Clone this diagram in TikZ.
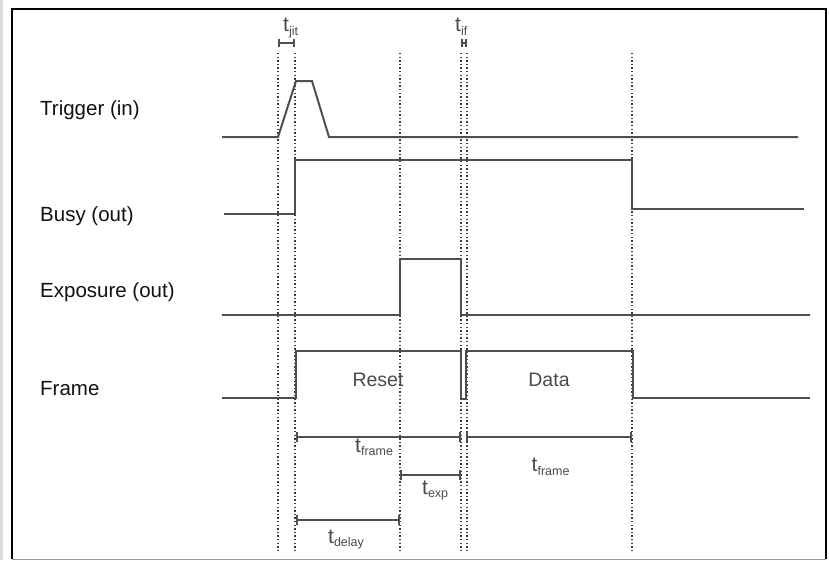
\documentclass[tikz,border=0pt]{standalone}
\usepackage{fontspec}
\setmainfont{Liberation Sans}
\usetikzlibrary{arrows.meta}
\definecolor{sigc}{HTML}{4F4F4F}
\definecolor{guidec}{HTML}{3A3A3A}
\definecolor{txtc}{HTML}{111111}
\definecolor{labc}{HTML}{4A4A4A}
\newcommand{\tsub}[1]{{\fontsize{21}{21}\selectfont t}{\fontsize{12.5}{12.5}\selectfont\raisebox{-3.5pt}{#1}}}
\begin{document}
\begin{tikzpicture}[x=1pt,y=-1pt,
  sigline/.style={line width=2pt, draw=sigc, line join=miter},
  guide/.style={line width=1.4pt, draw=guidec, dash pattern=on 1.3pt off 2.3pt},
  meas/.style={line width=1.8pt, draw=sigc, arrows={Bar[width=10pt]-Bar[width=10pt]}},
  smallmeas/.style={line width=1.8pt, draw=sigc, arrows={Bar[width=8pt]-Bar[width=8pt]}},
  signame/.style={anchor=base west, inner sep=0pt, text=txtc, font=\fontsize{20.5}{20.5}\selectfont},
  inlab/.style={anchor=base, inner sep=0pt, text=labc, font=\fontsize{19.5}{19.5}\selectfont},
  tlab/.style={anchor=base west, inner sep=0pt, text=labc}]
\useasboundingbox (0,0) rectangle (829,560);
% outer frame
\fill[black!13] (0,0) rectangle (3,560);
\draw[line width=0.8pt, black!40] (12,559) -- (826,559);
\draw[line width=2.4pt, black, line join=miter] (12,559) -- (12,9) -- (826,9) -- (826,559);
% guide lines
\foreach \gx in {278,295,400,461,467,632}
  \draw[guide] (\gx,53) -- (\gx,552);
% signals
\draw[sigline] (222,137) -- (278,137) -- (296,81) -- (312,81) -- (329,137) -- (798,137);
\draw[sigline] (224,214) -- (295,214) -- (295,160) -- (632,160) -- (632,209) -- (804,209);
\draw[sigline] (222,315) -- (400,315) -- (400,259) -- (461,259) -- (461,315) -- (810,315);
\draw[sigline] (222,398) -- (296,398) -- (296,351) -- (461,351) -- (461,399) -- (466,399) -- (466,351) -- (633,351) -- (633,398) -- (810,398);
% signal names
\node[signame] (ntrig) at (40,115) {Trigger (in)};
\node[signame] (nbusy) at (40,221) {Busy (out)};
\node[signame] (nexp) at (40,297) {Exposure (out)};
\node[signame] (nframe) at (40,395) {Frame};
\node[inlab] (reset) at (378,386) {Reset};
\node[inlab] (data) at (549,386) {Data};
% measurements
\coordinate (j1) at (278,43); \coordinate (j2) at (295,43);
\coordinate (i1) at (461,43); \coordinate (i2) at (467,43);
\draw[smallmeas] (j1) -- (j2);
\draw[smallmeas] (i1) -- (i2);
\coordinate (f1a) at (296,437); \coordinate (f1b) at (461,437);
\coordinate (f2a) at (466,437); \coordinate (f2b) at (632,437);
\coordinate (ea) at (400,475); \coordinate (eb) at (461,475);
\coordinate (da) at (296,520); \coordinate (db) at (400,520);
\draw[meas] (f1a) -- (f1b);
\draw[meas] (f2a) -- (f2b);
\draw[meas] (ea) -- (eb);
\draw[meas] (da) -- (db);
% time labels
\node[tlab] (tjit) at (283,31.5) {\tsub{jit}};
\node[tlab] (tif) at (455,31.5) {\tsub{if}};
\node[tlab] (tf1) at (355,452) {\tsub{frame}};
\node[tlab] (tf2) at (531.5,471.5) {\tsub{frame}};
\node[tlab] (texp) at (422,494) {\tsub{exp}};
\node[tlab] (tdel) at (328,543) {\tsub{delay}};
\end{tikzpicture}
\end{document}
